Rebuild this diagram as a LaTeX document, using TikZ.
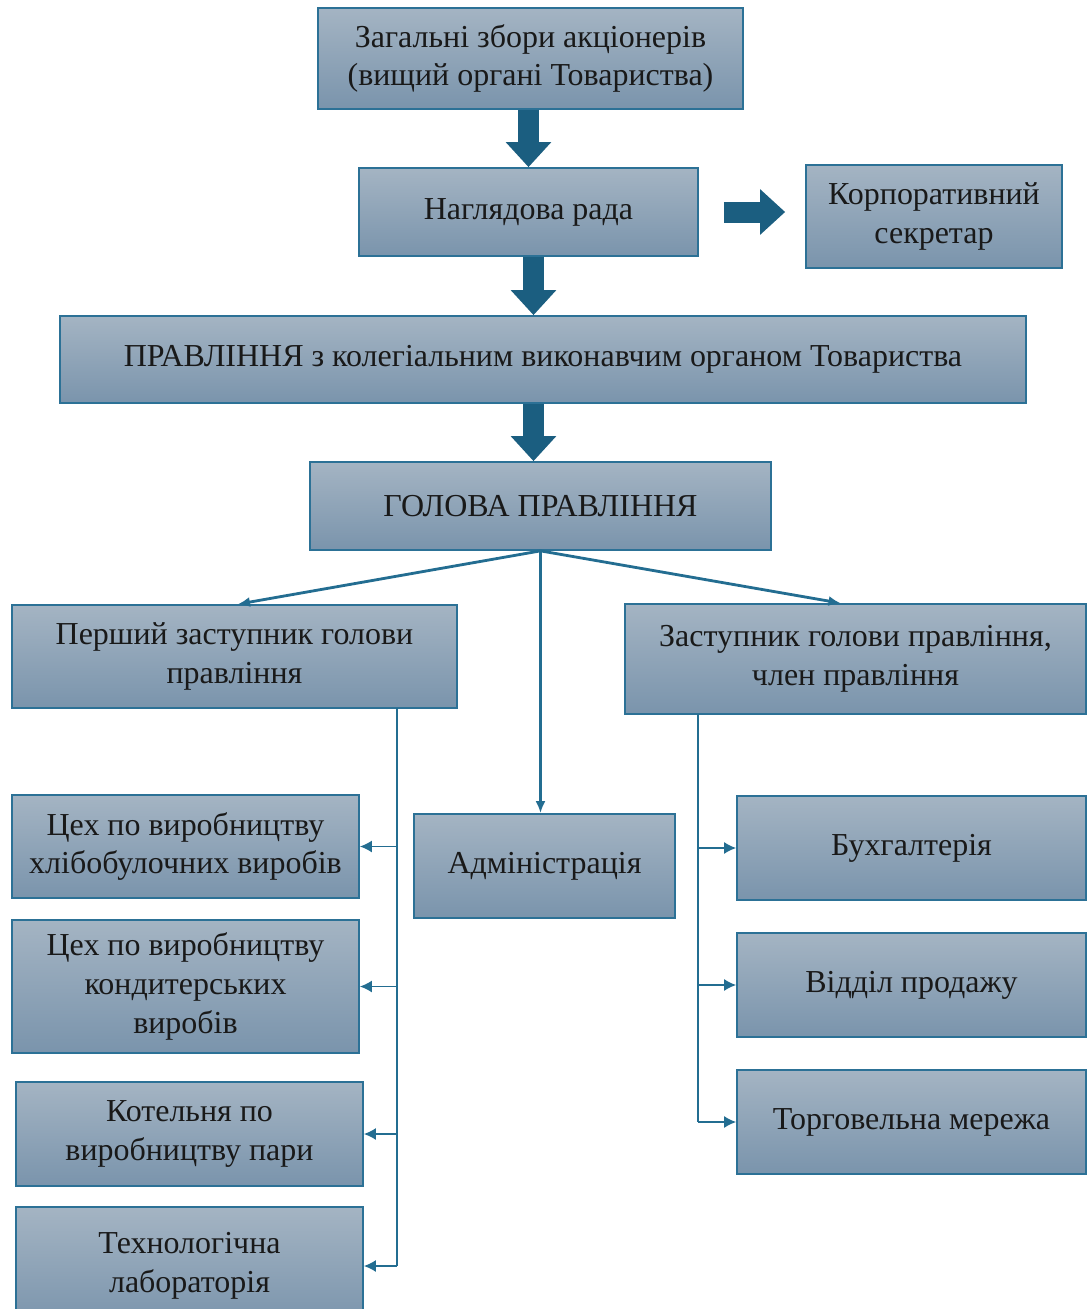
\documentclass[tikz,border=0pt]{standalone}
\usepackage{fontspec}
\setmainfont{Liberation Serif}
\usetikzlibrary{arrows.meta, positioning}

\definecolor{boxtop}{HTML}{A4B4C3}
\definecolor{boxbot}{HTML}{7A94AC}
\definecolor{boxline}{HTML}{2C7196}
\definecolor{bigblue}{HTML}{1B5E80}
\definecolor{thinblue}{HTML}{236D91}

\begin{document}
\begin{tikzpicture}[
    x=0.02cm, y=-0.02cm,
    box/.style={
        draw=boxline,
        line width=1pt,
        top color=boxtop,
        bottom color=boxbot,
        align=center,
        inner sep=2pt,
        text=black!90,
        font=\fontsize{18.2}{22}\selectfont
    },
    bigarrow/.style={-{Triangle[width=0.88cm, length=0.5cm]}, line width=0.42cm, draw=bigblue},
    link/.style={-{Latex[length=0.24cm, width=0.2cm]}, line width=1.6pt, draw=thinblue},
    branch/.style={-{Latex[length=0.24cm, width=0.24cm]}, line width=1pt, draw=thinblue}
]
\useasboundingbox[fill=white] (0,0) rectangle (1087,1309);

% top of the tree
\node[box, minimum width=8.5cm, minimum height=2.02cm] (zag) at (530.5,58.5)
    {Загальні збори акціонерів\\(вищий органі Товариства)};
\node[box, minimum width=6.78cm, minimum height=1.76cm] (nag) at (528.5,212)
    {Наглядова рада};
\node[box, minimum width=5.12cm, minimum height=2.06cm] (korp) at (934,216.5)
    {Корпоративний\\секретар};
\node[box, minimum width=19.32cm, minimum height=1.74cm] (prav) at (543,359.5)
    {ПРАВЛІННЯ з колегіальним виконавчим органом Товариства};
\node[box, minimum width=9.22cm, minimum height=1.76cm] (hol) at (540.5,506)
    {ГОЛОВА ПРАВЛІННЯ};

% deputies
\node[box, minimum width=8.9cm, minimum height=2.06cm] (per) at (234.5,656.5)
    {Перший заступник голови\\правління};
\node[box, minimum width=9.22cm, minimum height=2.2cm] (zast) at (855.5,659)
    {Заступник голови правління,\\член правління};
\node[box, minimum width=5.22cm, minimum height=2.08cm] (adm) at (544.5,866)
    {Адміністрація};

% left column
\node[box, minimum width=6.94cm, minimum height=2.06cm] (hlib) at (185.5,846.5)
    {Цех по виробництву\\хлібобулочних виробів};
\node[box, minimum width=6.94cm, minimum height=2.66cm] (kond) at (185.5,986.5)
    {Цех по виробництву\\кондитерських\\виробів};
\node[box, minimum width=6.94cm, minimum height=2.08cm] (kot) at (189.5,1134)
    {Котельня по\\виробництву пари};
\node[box, minimum width=6.94cm, minimum height=2.36cm] (lab) at (189.5,1266)
    {Технологічна\\лабораторія};

% right column
\node[box, minimum width=6.98cm, minimum height=2.08cm] (buh) at (911.5,848)
    {Бухгалтерія};
\node[box, minimum width=6.98cm, minimum height=2.08cm] (prod) at (911.5,985)
    {Відділ продажу};
\node[box, minimum width=6.98cm, minimum height=2.08cm] (torg) at (911.5,1122)
    {Торговельна мережа};

% block arrows
\draw[bigarrow] (zag.south -| nag.north) -- (nag.north);
\draw[bigarrow] ([xshift=0.1cm]nag.south) -- ([xshift=0.1cm]nag.south |- prav.north);
\draw[bigarrow] ([xshift=0.1cm]nag.south |- prav.south) -- ([xshift=0.1cm]nag.south |- hol.north);
\draw[bigarrow, shorten <=0.5cm, shorten >=0.4cm] (nag.east) -- (nag.east -| korp.west);

% from the head
\draw[link] (hol.south) -- ([xshift=0.07cm]per.north);
\draw[link] (hol.south) -- ([xshift=-0.3cm]zast.north);
\draw[link] (hol.south) -- (hol.south |- adm.north);

% branches
\coordinate (ltop) at (397,708);
\draw[thinblue, line width=1pt] (ltop) -- (ltop |- lab.east);
\foreach \n in {hlib, kond, kot, lab}
    \draw[branch] (ltop |- \n.east) -- (\n.east);

\coordinate (rtop) at (698,714);
\draw[thinblue, line width=1pt] (rtop) -- (rtop |- torg.west);
\foreach \n in {buh, prod, torg}
    \draw[branch] (rtop |- \n.west) -- (\n.west);
\end{tikzpicture}
\end{document}
